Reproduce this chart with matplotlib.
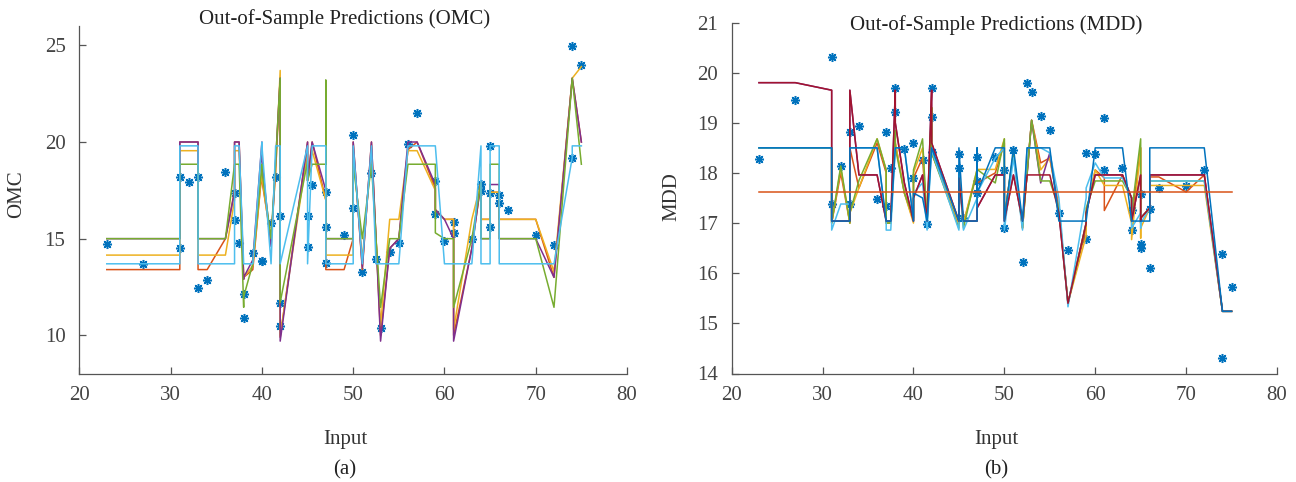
import matplotlib
matplotlib.use('Agg')
import matplotlib.pyplot as plt

# test inputs (sorted), shared by both panels
inputs = [23, 27, 31, 31, 32, 33, 33, 34, 36, 37, 37, 37.5, 38, 38, 39, 40, 40, 41, 41.5,
          42, 42, 42, 45, 45, 45.5, 47, 47, 47, 49, 50, 50, 51, 52, 52.5, 53, 54, 55, 56,
          57, 59, 59, 60, 61, 61, 63, 64, 64, 65, 65, 65, 66, 66, 67, 70, 72, 74, 74, 75]

# ---- OMC panel ----
omc_actual = [14.75, 13.67, 18.18, 14.53, 17.94, 18.18, 12.46, 12.87, 18.46, 17.35, 15.96,
              14.79, 12.15, 10.88, 14.27, 13.84, 13.86, 15.79, 18.18, 16.18, 11.65, 10.48,
              16.18, 14.57, 17.77, 17.42, 15.58, 13.72, 15.18, 20.37, 16.58, 13.29, 18.39,
              13.93, 10.38, 14.29, 14.79, 19.89, 21.5, 17.96, 16.27, 14.89, 15.87, 15.27,
              14.96, 17.85, 17.46, 19.78, 17.38, 15.58, 17.27, 16.87, 16.48, 15.18, 14.67,
              24.97, 19.18, 23.97]
omc_red = [13.4, 13.4, 13.4, 20.0, 20.0, 20.0, 13.4, 13.4, 15.0, 17.5, 20.0, 20.0, 13.0, 13.0,
           13.4, 18.5, 18.0, 15.0, 18.5, 23.3, 16.0, 9.9, 20.0, 18.0, 20.0, 17.0, 15.0, 13.4,
           13.4, 15.0, 20.0, 13.4, 20.0, 15.0, 10.0, 14.5, 15.0, 19.6, 20.0, 17.6, 16.5, 16.0,
           16.0, 10.0, 14.5, 17.9, 16.0, 16.0, 17.4, 17.4, 17.4, 16.0, 16.0, 16.0, 13.0, 23.3,
           23.3, 20.0]
omc_yellow = [14.15, 14.15, 14.15, 19.55, 19.55, 19.55, 14.15, 14.15, 14.15, 17.0, 19.55, 19.55,
              12.9, 13.0, 13.6, 18.5, 18.2, 14.8, 18.5, 23.7, 16.0, 10.0, 19.5, 18.0, 19.55,
              17.0, 15.0, 14.15, 14.15, 14.15, 19.55, 13.9, 19.55, 15.0, 10.5, 16.0, 16.0,
              19.55, 19.55, 17.5, 16.5, 16.0, 16.0, 10.3, 16.0, 17.9, 16.0, 16.0, 17.4, 17.4,
              17.4, 16.0, 16.0, 16.0, 13.3, 23.3, 23.3, 23.9]
omc_purple = [15.0, 15.0, 15.0, 20.0, 20.0, 20.0, 15.0, 15.0, 15.0, 17.4, 20.0, 20.0, 12.9, 13.0,
              13.9, 20.0, 19.0, 14.6, 19.0, 23.3, 16.0, 9.7, 20.0, 18.0, 20.0, 17.5, 16.0, 15.0,
              15.0, 15.0, 20.0, 13.5, 20.0, 15.0, 9.7, 14.5, 15.0, 20.0, 20.0, 17.8, 16.5, 16.0,
              15.0, 9.7, 14.5, 17.9, 15.0, 15.0, 17.8, 17.8, 17.8, 15.0, 15.0, 15.0, 13.0, 23.3,
              23.3, 20.0]
omc_green = [15.0, 15.0, 15.0, 18.85, 18.85, 18.85, 15.0, 15.0, 15.0, 18.85, 18.85, 18.85, 11.45,
             12.0, 13.7, 18.85, 18.5, 15.0, 19.0, 23.3, 16.0, 11.7, 19.0, 18.0, 18.85, 18.85,
             23.2, 15.0, 15.0, 15.0, 18.85, 15.0, 18.85, 15.0, 11.45, 15.0, 15.0, 18.85, 18.85,
             18.85, 15.3, 15.0, 15.0, 11.45, 15.0, 17.9, 15.0, 15.0, 18.85, 18.85, 18.85, 15.0,
             15.0, 15.0, 11.45, 23.3, 23.3, 18.85]
omc_cyan = [13.7, 13.7, 13.7, 19.8, 19.8, 19.8, 13.7, 13.7, 13.7, 13.7, 19.8, 19.8, 13.7, 13.7,
            13.7, 20.0, 19.8, 13.7, 19.8, 19.8, 13.7, 13.7, 19.8, 13.7, 19.8, 19.8, 19.8, 13.7,
            13.7, 13.7, 19.8, 13.7, 19.8, 13.7, 13.7, 13.7, 13.7, 19.8, 19.8, 19.8, 19.8, 13.7,
            13.7, 13.7, 13.7, 19.8, 13.7, 13.7, 19.8, 19.8, 19.8, 13.7, 13.7, 13.7, 13.7, 19.2,
            19.8, 19.8]

# ---- MDD panel ----
mdd_actual = [18.28, 19.46, 20.32, 17.39, 18.14, 18.81, 17.38, 18.94, 17.48, 18.82, 17.34,
              18.10, 19.70, 19.22, 18.47, 18.60, 17.90, 18.26, 16.99, 19.70, 19.12, 18.41,
              18.38, 18.09, 17.10, 18.32, 17.84, 17.59, 18.32, 18.06, 16.90, 18.46, 16.23,
              19.80, 19.62, 19.14, 18.86, 17.21, 16.46, 18.40, 16.68, 18.38, 19.10, 18.06,
              18.09, 17.26, 16.86, 17.58, 16.58, 16.50, 17.28, 16.10, 17.69, 17.73, 18.06,
              16.38, 14.30, 15.72]
mdd_red = [18.5, 18.5, 18.5, 17.0, 18.0, 17.0, 18.5, 17.7, 18.6, 18.0, 17.0, 17.0, 18.8, 18.6,
           17.6, 17.04, 17.9, 18.3, 17.0, 19.3, 18.8, 18.4, 17.0, 18.0, 17.0, 18.0, 17.6, 17.8,
           18.0, 18.6, 17.1, 18.4, 16.9, 18.0, 19.05, 18.2, 18.3, 17.3, 15.4, 16.9, 17.2, 18.06,
           17.9, 17.25, 17.96, 17.5, 17.04, 18.5, 17.0, 17.1, 17.3, 17.92, 17.92, 17.62, 17.96,
           15.24, 15.24, 15.24]
mdd_yellow = [18.5, 18.5, 18.5, 17.0, 18.1, 17.0, 17.2, 17.7, 18.68, 18.06, 17.0, 17.0, 18.8,
              18.6, 17.6, 17.0, 18.0, 18.5, 17.0, 19.3, 18.8, 18.4, 17.0, 18.0, 17.0, 18.07,
              17.6, 18.07, 18.07, 18.68, 17.1, 18.4, 16.9, 18.0, 19.05, 18.06, 18.3, 17.3, 15.4,
              16.75, 17.2, 18.06, 17.75, 17.75, 17.75, 17.0, 16.67, 18.5, 16.7, 16.9, 17.3,
              17.75, 17.75, 17.75, 17.75, 15.24, 15.24, 15.24]
mdd_purple = [19.8, 19.8, 19.65, 17.04, 17.04, 17.04, 19.65, 17.96, 17.96, 17.04, 17.04, 17.04,
              19.65, 19.0, 17.8, 17.04, 17.5, 17.96, 17.04, 19.65, 19.0, 18.6, 17.04, 17.9, 17.04,
              17.04, 17.04, 17.3, 17.96, 17.96, 17.04, 17.96, 17.04, 17.96, 19.05, 17.8, 18.4,
              17.2, 15.4, 17.0, 17.2, 17.96, 17.96, 17.96, 17.96, 17.5, 17.04, 17.96, 17.04,
              17.1, 17.3, 17.96, 17.96, 17.96, 17.96, 15.24, 15.24, 15.24]
mdd_green = [18.5, 18.5, 18.5, 17.0, 18.14, 17.0, 17.2, 17.85, 18.68, 18.06, 17.0, 17.0, 18.85,
             18.5, 17.6, 17.1, 18.06, 18.68, 17.0, 19.3, 18.8, 18.4, 16.9, 18.0, 16.9, 18.07,
             17.5, 18.07, 17.8, 18.68, 17.1, 18.4, 16.9, 18.0, 19.05, 17.84, 17.84, 17.3, 15.4,
             17.0, 17.3, 17.84, 17.84, 17.84, 17.84, 17.5, 17.2, 18.68, 17.0, 17.1, 17.3, 17.84,
             17.84, 17.84, 17.84, 15.24, 15.24, 15.24]
mdd_cyan = [18.5, 18.5, 18.5, 16.86, 17.38, 17.38, 18.5, 18.5, 18.5, 17.0, 16.86, 16.86, 18.5,
            18.5, 18.5, 17.1, 17.6, 17.8, 16.86, 18.5, 18.5, 18.45, 16.86, 18.0, 16.86, 17.5,
            17.3, 17.6, 18.3, 18.5, 16.86, 18.3, 16.86, 18.5, 18.5, 18.5, 18.4, 17.5, 15.33,
            17.5, 17.7, 18.2, 17.9, 17.9, 17.9, 17.5, 16.9, 17.2, 16.9, 17.0, 17.3, 17.84, 17.84,
            17.84, 17.84, 15.24, 15.24, 15.24]
mdd_darkred = [19.8, 19.8, 19.65, 17.04, 17.04, 17.04, 19.65, 17.96, 17.96, 17.04, 17.04, 17.04,
               19.65, 19.0, 17.8, 17.04, 17.5, 17.96, 17.04, 19.65, 19.0, 18.6, 17.04, 17.9,
               17.04, 17.04, 17.04, 17.3, 17.96, 17.96, 17.04, 17.96, 17.04, 17.96, 17.96, 17.96,
               17.96, 17.2, 15.4, 17.0, 17.2, 17.96, 17.96, 17.96, 17.96, 17.5, 17.04, 17.96,
               17.04, 17.1, 17.3, 17.96, 17.96, 17.96, 17.96, 15.24, 15.24, 15.24]
mdd_blue = [18.5, 18.5, 18.5, 17.04, 17.04, 17.04, 18.5, 18.5, 18.5, 17.04, 17.04, 17.04, 18.5,
            18.5, 18.5, 17.04, 17.6, 17.5, 17.04, 18.5, 18.5, 18.5, 17.04, 18.5, 17.04, 17.04,
            18.5, 17.6, 18.5, 18.5, 17.04, 18.5, 17.04, 18.5, 18.5, 18.5, 18.5, 17.04, 17.04,
            17.04, 17.04, 18.5, 18.5, 18.5, 18.5, 17.04, 17.04, 17.04, 17.04, 17.04, 17.04,
            18.5, 18.5, 18.5, 18.5, 15.24, 15.24, 15.24]
mdd_mean = 17.62

C_BLUE = '#0072BD'
C_RED = '#D95319'
C_YEL = '#EDB120'
C_PUR = '#7E2F8E'
C_GRN = '#77AC30'
C_CYN = '#4DBEEE'
C_DRD = '#A2142F'

plt.rcParams['font.family'] = ['Liberation Serif', 'DejaVu Serif']

fig = plt.figure(figsize=(12.96, 4.82), dpi=100)
ax1 = fig.add_axes([79.4 / 1296, 108 / 482, 547.6 / 1296, 348 / 482])
ax2 = fig.add_axes([731.7 / 1296, 108.5 / 482, 545.3 / 1296, 351 / 482])

star = dict(marker=(8, 2, 0), linestyle='none', color=C_BLUE, markersize=6.5, markeredgewidth=1.1)
lw = 1.1

# left panel
ax1.plot(inputs, omc_actual, **star)
for vals, col in [(omc_red, C_RED), (omc_yellow, C_YEL), (omc_purple, C_PUR),
                  (omc_green, C_GRN), (omc_cyan, C_CYN)]:
    ax1.plot(inputs, vals, color=col, lw=lw)
ax1.set_xlim(20, 80)
ax1.set_ylim(8, 26)
ax1.set_yticks([10, 15, 20, 25])
ax1.set_ylabel('OMC')

# right panel
ax2.plot(inputs, mdd_actual, **star)
for vals, col in [(mdd_red, C_RED), (mdd_yellow, C_YEL), (mdd_purple, C_PUR),
                  (mdd_green, C_GRN), (mdd_cyan, C_CYN), (mdd_darkred, C_DRD),
                  (mdd_blue, C_BLUE)]:
    ax2.plot(inputs, vals, color=col, lw=lw)
ax2.plot([inputs[0], inputs[-1]], [mdd_mean, mdd_mean], color=C_RED, lw=lw)
ax2.set_xlim(20, 80)
ax2.set_ylim(14, 21)
ax2.set_yticks(range(14, 22))
ax2.set_ylabel('MDD')

panels = [(ax1, 'OMC', '(a)', 1.005, (-0.0975, 0.517)),
          (ax2, 'MDD', '(b)', 0.98, (-0.0917, 0.504))]
for ax, name, tag, ty, ylc in panels:
    ax.set_xticks(range(20, 81, 10))
    for side in ['top', 'right']:
        ax.spines[side].set_visible(False)
    for side in ['left', 'bottom']:
        ax.spines[side].set_color('#555555')
        ax.spines[side].set_linewidth(0.9)
    ax.tick_params(direction='in', length=5, width=0.9, colors='#555555',
                   labelcolor='#444444', labelsize=15)
    ax.tick_params(axis='y', pad=10)
    ax.tick_params(axis='x', pad=9)
    ax.set_title('Out-of-Sample Predictions (%s)' % name, fontsize=15, color='#222222',
                 x=0.485, y=ty, pad=0)
    ax.yaxis.label.set_fontsize(15)
    ax.yaxis.label.set_color('#333333')
    ax.yaxis.set_label_coords(*ylc)
    ax.set_xlabel('Input', fontsize=15, color='#333333')
    ax.xaxis.set_label_coords(0.485, -0.162)
    ax.text(0.485, -0.247, tag, transform=ax.transAxes, ha='center', va='top',
            fontsize=15, color='#222222')

fig.savefig('out.png', dpi=100)
